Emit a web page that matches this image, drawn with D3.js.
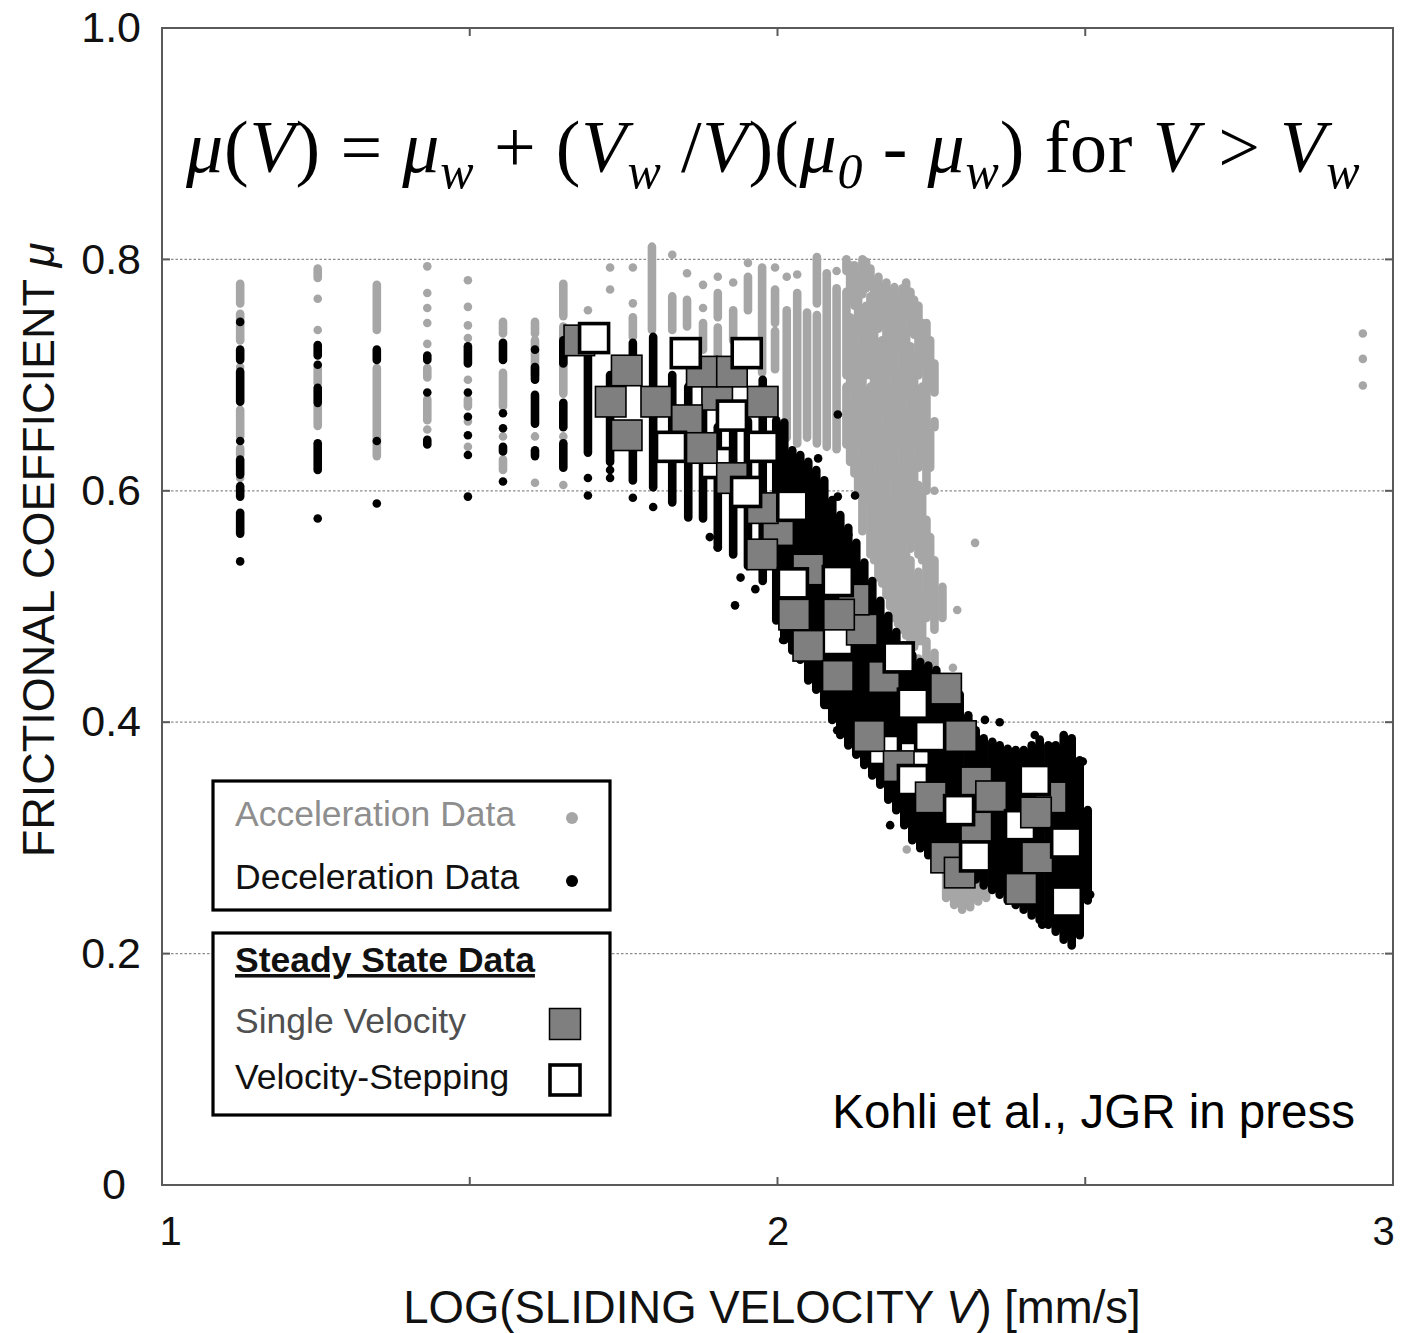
<!DOCTYPE html>
<html>
<head>
<meta charset="utf-8">
<script src="https://cdn.jsdelivr.net/npm/d3@7"></script>
<style>
  body { margin: 0; background: #fff; }
  svg { display: block; }
</style>
</head>
<body>
<div id="chart"></div>
<script>
'use strict';

/* Frictional coefficient vs log sliding velocity (Kohli et al.) */

// Axis ticks
const xTicks = [1, 2, 3];
const xLabels = ['1', '2', '3'];
const yTicks = [0, 0.2, 0.4, 0.6, 0.8, 1.0];
const yLabels = ['0', '0.2', '0.4', '0.6', '0.8', '1.0'];
const gridValues = [0.2, 0.4, 0.6, 0.8];
const innerXTicks = [1.5, 2, 2.5];

// Acceleration data (gray dots), read off as vertical runs of
// overlapping dots: [log V, mu top, mu bottom]
const accelRuns = [
  [1.127, 0.779, 0.762], [1.127, 0.753, 0.730], [1.127, 0.707, 0.707], [1.127, 0.670, 0.647],
  [1.127, 0.637, 0.631], [1.127, 0.611, 0.611],
  [1.253, 0.792, 0.784], [1.253, 0.766, 0.766], [1.253, 0.739, 0.739], [1.253, 0.707, 0.693],
  [1.253, 0.673, 0.656],
  [1.349, 0.778, 0.739], [1.349, 0.706, 0.630],
  [1.431, 0.794, 0.794], [1.431, 0.771, 0.771], [1.431, 0.758, 0.758], [1.431, 0.745, 0.745],
  [1.431, 0.727, 0.727], [1.431, 0.706, 0.698], [1.431, 0.679, 0.661], [1.431, 0.653, 0.653],
  [1.497, 0.782, 0.782], [1.497, 0.759, 0.759], [1.497, 0.743, 0.743], [1.497, 0.732, 0.732],
  [1.497, 0.696, 0.696], [1.497, 0.679, 0.673], [1.497, 0.660, 0.660], [1.497, 0.638, 0.638],
  [1.554, 0.746, 0.736], [1.554, 0.702, 0.673], [1.554, 0.647, 0.647], [1.554, 0.627, 0.618],
  [1.606, 0.746, 0.736], [1.606, 0.730, 0.700], [1.606, 0.647, 0.647], [1.606, 0.607, 0.607],
  [1.652, 0.779, 0.751], [1.652, 0.742, 0.684], [1.652, 0.647, 0.647], [1.652, 0.605, 0.605],
  [1.692, 0.756, 0.756],
  [1.728, 0.793, 0.793], [1.728, 0.774, 0.774],
  [1.765, 0.793, 0.793], [1.765, 0.762, 0.762], [1.765, 0.750, 0.733],
  [1.796, 0.811, 0.739],
  [1.829, 0.804, 0.804], [1.829, 0.768, 0.739],
  [1.853, 0.788, 0.788], [1.853, 0.765, 0.742],
  [1.879, 0.778, 0.778], [1.879, 0.758, 0.758], [1.879, 0.745, 0.722],
  [1.903, 0.785, 0.785], [1.903, 0.771, 0.750], [1.903, 0.741, 0.710],
  [1.928, 0.780, 0.780], [1.928, 0.756, 0.730],
  [1.952, 0.797, 0.797], [1.952, 0.785, 0.756],
  [1.975, 0.793, 0.702],
  [1.996, 0.793, 0.793], [1.996, 0.774, 0.745], [1.996, 0.738, 0.705],
  [2.015, 0.785, 0.785], [2.015, 0.756, 0.646],
  [2.032, 0.787, 0.787], [2.032, 0.771, 0.641],
  [2.048, 0.754, 0.646],
  [2.064, 0.802, 0.762], [2.064, 0.752, 0.641],
  [2.080, 0.788, 0.638],
  [2.096, 0.790, 0.790], [2.096, 0.775, 0.636],
  // dense cloud
  [2.112, 0.800, 0.790], [2.112, 0.772, 0.700], [2.112, 0.690, 0.640],
  [2.118, 0.795, 0.765], [2.118, 0.750, 0.690], [2.118, 0.675, 0.625],
  [2.125, 0.795, 0.760], [2.125, 0.745, 0.660], [2.125, 0.650, 0.615],
  [2.131, 0.788, 0.740], [2.131, 0.725, 0.640], [2.131, 0.628, 0.600],
  [2.138, 0.800, 0.770], [2.138, 0.755, 0.680], [2.138, 0.668, 0.565],
  [2.144, 0.798, 0.775], [2.144, 0.760, 0.700], [2.144, 0.685, 0.590],
  [2.151, 0.792, 0.782], [2.151, 0.768, 0.700], [2.151, 0.690, 0.545],
  [2.157, 0.780, 0.720], [2.157, 0.705, 0.625], [2.157, 0.612, 0.540],
  [2.164, 0.785, 0.740], [2.164, 0.728, 0.650], [2.164, 0.640, 0.525],
  [2.170, 0.775, 0.745], [2.170, 0.730, 0.670], [2.170, 0.655, 0.520],
  [2.177, 0.780, 0.720], [2.177, 0.708, 0.660], [2.177, 0.648, 0.510],
  [2.183, 0.770, 0.700], [2.183, 0.690, 0.610], [2.183, 0.595, 0.500],
  [2.190, 0.776, 0.745], [2.190, 0.735, 0.680], [2.190, 0.668, 0.575], [2.190, 0.560, 0.490],
  [2.196, 0.768, 0.720], [2.196, 0.705, 0.640], [2.196, 0.625, 0.485],
  [2.203, 0.775, 0.700], [2.203, 0.688, 0.610], [2.203, 0.598, 0.480],
  [2.209, 0.780, 0.750], [2.209, 0.735, 0.680], [2.209, 0.665, 0.560], [2.209, 0.545, 0.475],
  [2.216, 0.772, 0.740], [2.216, 0.725, 0.650], [2.216, 0.640, 0.550], [2.216, 0.540, 0.470],
  [2.222, 0.765, 0.735], [2.222, 0.715, 0.640], [2.222, 0.625, 0.560], [2.222, 0.520, 0.465],
  [2.229, 0.760, 0.700], [2.229, 0.688, 0.620], [2.229, 0.605, 0.545], [2.229, 0.530, 0.470],
  [2.229, 0.455, 0.450],
  [2.235, 0.745, 0.710], [2.235, 0.690, 0.630], [2.235, 0.600, 0.540], [2.235, 0.510, 0.470],
  [2.242, 0.745, 0.720], [2.242, 0.705, 0.655], [2.242, 0.630, 0.600], [2.242, 0.575, 0.490],
  [2.242, 0.470, 0.455],
  [2.248, 0.730, 0.690], [2.248, 0.650, 0.620], [2.248, 0.560, 0.500],
  [2.255, 0.710, 0.685], [2.255, 0.660, 0.655], [2.255, 0.600, 0.600], [2.255, 0.540, 0.480],
  [2.255, 0.460, 0.445],
  [2.268, 0.517, 0.490],
  [2.285, 0.447, 0.447], [2.292, 0.497, 0.497], [2.321, 0.555, 0.555],
  // below the band
  [2.210, 0.290, 0.290],
  [2.274, 0.278, 0.248], [2.287, 0.275, 0.242], [2.300, 0.270, 0.238], [2.313, 0.265, 0.240],
  [2.326, 0.262, 0.245], [2.339, 0.258, 0.248], [2.352, 0.268, 0.268],
  [2.951, 0.736, 0.736], [2.951, 0.714, 0.714], [2.951, 0.691, 0.691]
];

// Deceleration data (black dots), same layout
const decelRuns = [
  [1.127, 0.746, 0.746], [1.127, 0.722, 0.713], [1.127, 0.703, 0.677], [1.127, 0.643, 0.643],
  [1.127, 0.627, 0.614], [1.127, 0.604, 0.595], [1.127, 0.581, 0.563], [1.127, 0.539, 0.539],
  [1.253, 0.726, 0.717], [1.253, 0.709, 0.709], [1.253, 0.689, 0.676], [1.253, 0.641, 0.618],
  [1.253, 0.576, 0.576],
  [1.349, 0.722, 0.713], [1.349, 0.643, 0.643], [1.349, 0.589, 0.589],
  [1.431, 0.717, 0.713], [1.431, 0.685, 0.685], [1.431, 0.644, 0.640],
  [1.497, 0.725, 0.710], [1.497, 0.685, 0.685], [1.497, 0.664, 0.664], [1.497, 0.648, 0.648],
  [1.497, 0.631, 0.631], [1.497, 0.595, 0.595],
  [1.554, 0.728, 0.713], [1.554, 0.667, 0.667], [1.554, 0.654, 0.654], [1.554, 0.638, 0.634],
  [1.554, 0.608, 0.608],
  [1.606, 0.722, 0.722], [1.606, 0.707, 0.696], [1.606, 0.683, 0.658], [1.606, 0.635, 0.630],
  [1.652, 0.730, 0.710], [1.652, 0.676, 0.655], [1.652, 0.641, 0.620],
  [1.692, 0.716, 0.633], [1.692, 0.611, 0.611], [1.692, 0.596, 0.596],
  [1.728, 0.700, 0.625], [1.728, 0.618, 0.618], [1.728, 0.611, 0.611],
  [1.765, 0.728, 0.700], [1.765, 0.640, 0.609], [1.765, 0.594, 0.594],
  [1.798, 0.733, 0.603], [1.798, 0.586, 0.586],
  [1.829, 0.700, 0.590],
  [1.855, 0.690, 0.577],
  [1.879, 0.670, 0.576], [1.903, 0.655, 0.551], [1.928, 0.654, 0.545], [1.952, 0.660, 0.535],
  [1.976, 0.696, 0.522], [1.998, 0.661, 0.488], [2.011, 0.659, 0.471],
  [2.024, 0.635, 0.462], [2.037, 0.631, 0.454], [2.050, 0.625, 0.436], [2.063, 0.618, 0.428],
  [2.076, 0.609, 0.415], [2.089, 0.592, 0.402], [2.102, 0.579, 0.389], [2.115, 0.568, 0.380],
  [2.128, 0.555, 0.372], [2.141, 0.538, 0.363], [2.154, 0.522, 0.354], [2.167, 0.505, 0.346],
  [2.180, 0.492, 0.333], [2.193, 0.478, 0.324], [2.206, 0.466, 0.311], [2.219, 0.458, 0.298],
  [2.232, 0.452, 0.291], [2.245, 0.449, 0.285], [2.258, 0.445, 0.279], [2.271, 0.438, 0.276],
  [2.283, 0.432, 0.272], [2.296, 0.424, 0.271], [2.310, 0.406, 0.268], [2.322, 0.393, 0.264],
  [2.335, 0.386, 0.259], [2.349, 0.383, 0.255], [2.361, 0.380, 0.251], [2.374, 0.377, 0.246],
  [2.387, 0.376, 0.242], [2.400, 0.376, 0.238], [2.413, 0.380, 0.233], [2.426, 0.385, 0.229],
  [2.440, 0.380, 0.225], [2.452, 0.380, 0.219], [2.465, 0.389, 0.212], [2.478, 0.385, 0.207],
  [2.491, 0.367, 0.216], [2.504, 0.324, 0.246],
  // scattered points off the main band
  [1.931, 0.501, 0.501], [1.903, 0.551, 0.551], [2.009, 0.471, 0.471], [2.080, 0.415, 0.415],
  [2.097, 0.393, 0.393], [2.183, 0.311, 0.311], [2.430, 0.225, 0.225], [2.508, 0.251, 0.251],
  [2.496, 0.366, 0.366], [2.478, 0.386, 0.386], [2.418, 0.389, 0.389], [2.337, 0.402, 0.402],
  [2.361, 0.400, 0.400], [2.098, 0.666, 0.666], [2.066, 0.628, 0.628], [2.126, 0.596, 0.596],
  [2.098, 0.595, 0.595], [2.115, 0.562, 0.562], [2.121, 0.549, 0.549], [1.940, 0.525, 0.525],
  [1.964, 0.515, 0.515], [1.890, 0.560, 0.560]
];

// Steady state data: [log V, mu, kind] with kind 's' = single velocity,
// 'v' = velocity-stepping; listed in drawing order
const steadyPoints = [
  [1.678, 0.730, 's'], [1.702, 0.732, 'v'], [1.755, 0.704, 's'], [1.729, 0.677, 's'],
  [1.755, 0.648, 's'], [1.803, 0.677, 's'], [1.902, 0.683, 's'], [1.877, 0.703, 's'],
  [1.926, 0.703, 's'], [1.851, 0.719, 'v'], [1.950, 0.719, 'v'], [1.926, 0.665, 'v'],
  [1.976, 0.677, 's'], [1.976, 0.638, 'v'], [1.853, 0.661, 's'], [1.827, 0.638, 'v'],
  [1.900, 0.624, 'v'], [1.877, 0.637, 's'], [1.926, 0.611, 's'], [2.001, 0.566, 's'],
  [1.976, 0.585, 's'], [1.949, 0.599, 'v'], [1.975, 0.545, 's'], [2.024, 0.587, 'v'],
  [2.050, 0.532, 's'], [2.025, 0.520, 'v'], [2.027, 0.493, 's'], [2.098, 0.471, 'v'],
  [2.137, 0.480, 's'], [2.124, 0.506, 's'], [2.098, 0.522, 'v'], [2.100, 0.493, 's'],
  [2.050, 0.466, 's'], [2.098, 0.440, 's'], [2.173, 0.439, 's'], [2.197, 0.456, 'v'],
  [2.220, 0.416, 'v'], [2.274, 0.429, 's'], [2.173, 0.376, 'v'], [2.149, 0.388, 's'],
  [2.223, 0.370, 'v'], [2.248, 0.388, 'v'], [2.298, 0.388, 's'], [2.197, 0.362, 's'],
  [2.220, 0.350, 'v'], [2.249, 0.335, 's'], [2.323, 0.348, 's'], [2.347, 0.336, 's'],
  [2.323, 0.309, 's'], [2.295, 0.324, 'v'], [2.274, 0.283, 's'], [2.296, 0.270, 's'],
  [2.321, 0.284, 'v'], [2.394, 0.311, 'v'], [2.444, 0.335, 's'], [2.418, 0.350, 'v'],
  [2.420, 0.322, 's'], [2.422, 0.283, 's'], [2.469, 0.296, 'v'], [2.396, 0.256, 's'],
  [2.470, 0.245, 'v']
];

// Legend entries
const dotLegend = [
  { label: 'Acceleration Data', kind: 'accel' },
  { label: 'Deceleration Data', kind: 'decel' }
];
const steadyLegendTitle = 'Steady State Data';
const steadyLegend = [
  { label: 'Single Velocity', kind: 's' },
  { label: 'Velocity-Stepping', kind: 'v' }
];
const creditText = 'Kohli et al., JGR in press';

// ---------------------------------------------------------------

const width = 1401, height = 1333;
const margin = { left: 162, right: 8, top: 28, bottom: 148 };
const sans = '"Liberation Sans", Arial, Helvetica, sans-serif';
const serif = '"Liberation Serif", "Times New Roman", Times, serif';

const colors = {
  accel: '#a6a6a6',
  decel: '#000',
  single: '#7f7f7f',
  frame: '#5a5a5a',
  grid: '#8c8c8c'
};

const dotR = 4.3;

const svg = d3.select('#chart').append('svg')
  .attr('width', width)
  .attr('height', height);

const x = d3.scaleLinear().domain([1, 3]).range([margin.left, width - margin.right]);
const y = d3.scaleLinear().domain([0, 1]).range([height - margin.bottom, margin.top]);

// Dotted horizontal grid lines
svg.append('g').selectAll('line')
  .data(gridValues)
  .join('line')
  .attr('x1', x(1)).attr('x2', x(3))
  .attr('y1', d => y(d)).attr('y2', d => y(d))
  .attr('stroke', colors.grid)
  .attr('stroke-width', 1.3)
  .attr('stroke-dasharray', '2.5,2');

// Data runs drawn as capsules (a column of overlapping dots)
function drawRuns(runs, color){
  svg.append('g').selectAll('rect')
    .data(runs)
    .join('rect')
    .attr('x', d => x(d[0]) - dotR)
    .attr('y', d => y(d[1]) - dotR)
    .attr('width', dotR * 2)
    .attr('height', d => y(d[2]) - y(d[1]) + dotR * 2)
    .attr('rx', dotR)
    .attr('fill', color);
}

drawRuns(accelRuns, colors.accel);
drawRuns(decelRuns, colors.decel);

// Steady state squares
const sq = { s: 30.5, v: 29 };
svg.append('g').selectAll('rect')
  .data(steadyPoints)
  .join('rect')
  .attr('x', d => x(d[0]) - sq[d[2]] / 2)
  .attr('y', d => y(d[1]) - sq[d[2]] / 2)
  .attr('width', d => sq[d[2]])
  .attr('height', d => sq[d[2]])
  .attr('fill', d => d[2] === 's' ? colors.single : '#fff')
  .attr('stroke', '#000')
  .attr('stroke-width', d => d[2] === 's' ? 1.6 : 3.6);

// Frame
svg.append('rect')
  .attr('x', x(1)).attr('y', y(1))
  .attr('width', x(3) - x(1)).attr('height', y(0) - y(1))
  .attr('fill', 'none')
  .attr('stroke', colors.frame)
  .attr('stroke-width', 2);

// Inner tick marks on all four sides
const tickLen = 8;
const innerTicks = svg.append('g').attr('stroke', colors.frame).attr('stroke-width', 2);
innerXTicks.forEach(v => {
  innerTicks.append('line').attr('x1', x(v)).attr('x2', x(v)).attr('y1', y(0)).attr('y2', y(0) - tickLen);
  innerTicks.append('line').attr('x1', x(v)).attr('x2', x(v)).attr('y1', y(1)).attr('y2', y(1) + tickLen);
});
gridValues.forEach(v => {
  innerTicks.append('line').attr('x1', x(1)).attr('x2', x(1) + tickLen).attr('y1', y(v)).attr('y2', y(v));
  innerTicks.append('line').attr('x1', x(3)).attr('x2', x(3) - tickLen).attr('y1', y(v)).attr('y2', y(v));
});

// Axes (labels only)
const xAxis = svg.append('g')
  .attr('transform', `translate(0,${y(0)})`)
  .call(d3.axisBottom(x).tickValues(xTicks).tickSize(0).tickPadding(32)
    .tickFormat((d, i) => xLabels[i]));
xAxis.select('.domain').remove();
xAxis.selectAll('text')
  .attr('font-family', sans).attr('font-size', 40).attr('fill', '#111')
  .attr('dx', (d, i) => i === 0 ? 8 : (i === 2 ? -10 : 0));

const yAxis = svg.append('g')
  .attr('transform', `translate(${x(1)},0)`)
  .call(d3.axisLeft(y).tickValues(yTicks).tickSize(0).tickPadding(20)
    .tickFormat((d, i) => yLabels[i]));
yAxis.select('.domain').remove();
yAxis.selectAll('text')
  .attr('font-family', sans).attr('font-size', 43).attr('fill', '#111')
  .attr('x', d => d === 0 ? -36 : -21);

// Axis titles
const xTitle = svg.append('text')
  .attr('x', 772).attr('y', 1323)
  .attr('text-anchor', 'middle')
  .attr('font-family', sans).attr('font-size', 45.5).attr('fill', '#111');
xTitle.append('tspan').text('LOG(SLIDING VELOCITY ');
xTitle.append('tspan').attr('font-style', 'italic').text('V');
xTitle.append('tspan').text(') [mm/s]');

const yTitle = svg.append('text')
  .attr('transform', 'translate(54,550) rotate(-90)')
  .attr('text-anchor', 'middle')
  .attr('font-family', sans).attr('font-size', 45).attr('fill', '#111');
yTitle.append('tspan').text('FRICTIONAL COEFFICIENT ');
yTitle.append('tspan').attr('font-style', 'italic').text('μ');

// Formula
const formula = svg.append('text')
  .attr('x', 186).attr('y', 172)
  .attr('font-family', serif).attr('font-size', 74).attr('fill', '#000')
  .attr('letter-spacing', 0.85);
const subShift = 16;
const parts = [
  ['μ', 'i'], ['(', 'n'], ['V', 'i'], [') = ', 'n'], ['μ', 'i'], ['w', 's'],
  [' + (', 'n'], ['V', 'i'], ['w', 's'], [' /', 'n'], ['V', 'i'], [')(', 'n'],
  ['μ', 'i'], ['0', 's'], [' - ', 'n'], ['μ', 'i'], ['w', 's'], [') for ', 'n'],
  ['V', 'i'], [' > ', 'n'], ['V', 'i'], ['w', 's']
];
let shifted = false;
parts.forEach(([t, k]) => {
  const ts = formula.append('tspan').text(t);
  if (k === 's'){
    ts.attr('font-style', 'italic').attr('font-size', 50).attr('dy', subShift);
    shifted = true;
  } else {
    if (shifted){ ts.attr('dy', -subShift); shifted = false; }
    if (k === 'i') ts.attr('font-style', 'italic');
  }
});

// Credit
svg.append('text')
  .attr('x', 1355).attr('y', 1128)
  .attr('text-anchor', 'end')
  .attr('font-family', sans).attr('font-size', 47.5).attr('fill', '#000')
  .text(creditText);

// Legend boxes
const legendX = 213, legendW = 397;
const box1 = { y: 781, h: 129 };
const box2 = { y: 933, h: 182 };
const legendFont = 35.5;

[box1, box2].forEach(b => {
  svg.append('rect')
    .attr('x', legendX).attr('y', b.y)
    .attr('width', legendW).attr('height', b.h)
    .attr('fill', '#fff')
    .attr('stroke', '#000')
    .attr('stroke-width', 3.2);
});

const dotRows = [826, 889];
dotLegend.forEach((d, i) => {
  svg.append('text')
    .attr('x', 235).attr('y', dotRows[i])
    .attr('font-family', sans).attr('font-size', legendFont)
    .attr('fill', d.kind === 'accel' ? '#8e8e8e' : '#111')
    .text(d.label);
  svg.append('circle')
    .attr('cx', 572).attr('cy', dotRows[i] - 8)
    .attr('r', 6)
    .attr('fill', d.kind === 'accel' ? colors.accel : colors.decel);
});

svg.append('text')
  .attr('x', 235).attr('y', 972)
  .attr('font-family', sans).attr('font-size', legendFont).attr('font-weight', 'bold')
  .attr('text-decoration', 'underline')
  .attr('fill', '#111')
  .text(steadyLegendTitle);

const sqRows = [1033, 1089];
steadyLegend.forEach((d, i) => {
  svg.append('text')
    .attr('x', 235).attr('y', sqRows[i])
    .attr('font-family', sans).attr('font-size', legendFont)
    .attr('fill', d.kind === 's' ? '#505050' : '#111')
    .text(d.label);
  const s = d.kind === 's' ? 31 : 30;
  svg.append('rect')
    .attr('x', 565 - s / 2).attr('y', sqRows[i] - 9 - s / 2)
    .attr('width', s).attr('height', s)
    .attr('fill', d.kind === 's' ? colors.single : '#fff')
    .attr('stroke', '#000')
    .attr('stroke-width', d.kind === 's' ? 1.5 : 3.6);
});
</script>
</body>
</html>
